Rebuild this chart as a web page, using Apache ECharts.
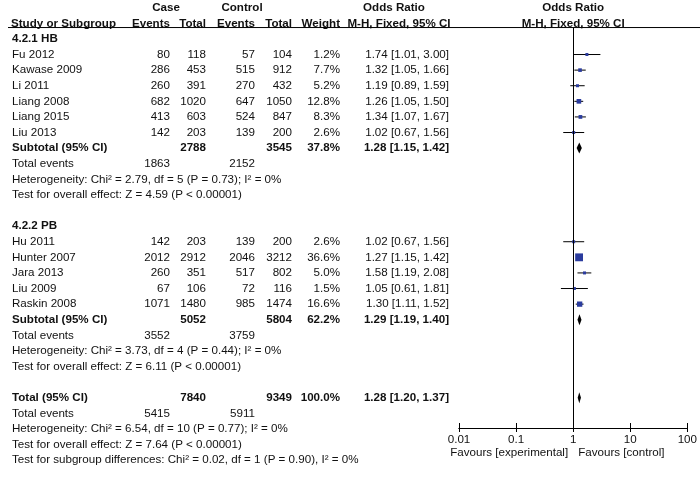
<!DOCTYPE html>
<html>
<head>
<meta charset="utf-8">
<script src="https://cdn.jsdelivr.net/npm/echarts@6/dist/echarts.min.js"></script>
<style>
  html, body { margin: 0; padding: 0; background: #fff; }
  #main { width: 700px; height: 477px; }
</style>
</head>
<body>
<div id="main"></div>
<script>
// subgroup labels
var groupLabels = ['4.2.1 HB', '4.2.2 PB']

// single studies
var studyNames = ['Fu 2012', 'Kawase 2009', 'Li 2011', 'Liang 2008', 'Liang 2015', 'Liu 2013',
  'Hu 2011', 'Hunter 2007', 'Jara 2013', 'Liu 2009', 'Raskin 2008']
var studyGroup = [0, 0, 0, 0, 0, 0, 1, 1, 1, 1, 1]
var caseEvents = [80, 286, 260, 682, 413, 142, 142, 2012, 260, 67, 1071]
var caseTotals = [118, 453, 391, 1020, 603, 203, 203, 2912, 351, 106, 1480]
var ctrlEvents = [57, 515, 270, 647, 524, 139, 139, 2046, 517, 72, 985]
var ctrlTotals = [104, 912, 432, 1050, 847, 200, 200, 3212, 802, 116, 1474]
var studyWeights = [1.2, 7.7, 5.2, 12.8, 8.3, 2.6, 2.6, 36.6, 5.0, 1.5, 16.6]
var studyOr = [1.74, 1.32, 1.19, 1.26, 1.34, 1.02, 1.02, 1.27, 1.58, 1.05, 1.30]
var studyLow = [1.01, 1.05, 0.89, 1.05, 1.07, 0.67, 0.67, 1.15, 1.19, 0.61, 1.11]
var studyHigh = [3.00, 1.66, 1.59, 1.50, 1.67, 1.56, 1.56, 1.42, 2.08, 1.81, 1.52]

// subtotals
var subCaseTotals = [2788, 5052]
var subCtrlTotals = [3545, 5804]
var subWeights = [37.8, 62.2]
var subOr = [1.28, 1.29]
var subLow = [1.15, 1.19]
var subHigh = [1.42, 1.40]
var subCaseEvents = [1863, 3552]
var subCtrlEvents = [2152, 3759]
var subHetero = ['Heterogeneity: Chi² = 2.79, df = 5 (P = 0.73); I² = 0%',
  'Heterogeneity: Chi² = 3.73, df = 4 (P = 0.44); I² = 0%']
var subEffect = ['Test for overall effect: Z = 4.59 (P < 0.00001)',
  'Test for overall effect: Z = 6.11 (P < 0.00001)']

// overall
var totalCaseTotal = 7840
var totalCtrlTotal = 9349
var totalWeight = 100.0
var totalOr = 1.28
var totalLow = 1.20
var totalHigh = 1.37
var totalCaseEvents = 5415
var totalCtrlEvents = 5911
var totalNotes = ['Heterogeneity: Chi² = 6.54, df = 10 (P = 0.77); I² = 0%',
  'Test for overall effect: Z = 7.64 (P < 0.00001)',
  'Test for subgroup differences: Chi² = 0.02, df = 1 (P = 0.90), I² = 0%']

// axis
var axisMin = 0.01
var axisMax = 100
var favourLabels = ['Favours [experimental]', 'Favours [control]']

var FONT = '"Liberation Sans", Arial, sans-serif'
var FSIZE = 11.6
var INK = '#111'
var BLUE = '#2b3c9e'
// column right edges
var colName = 12, colCaseEv = 170, colCaseTot = 206, colCtrlEv = 255, colCtrlTot = 292, colWeight = 340, colOr = 449

function fmtOr(o, l, h) {
  return o.toFixed(2) + ' [' + l.toFixed(2) + ', ' + h.toFixed(2) + ']'
}
function pct(w) {
  return w.toFixed(1) + '%'
}

// build table rows + forest marks
var rows = []
var marks = []
var r = 0
for (var g = 0; g < groupLabels.length; g++) {
  rows.push({ r: r, bold: true, cells: [[groupLabels[g], colName, 'left']] })
  r++
  for (var i = 0; i < studyNames.length; i++) {
    if (studyGroup[i] !== g) continue
    rows.push({ r: r, bold: false, cells: [
      [studyNames[i], colName, 'left'],
      [String(caseEvents[i]), colCaseEv, 'right'],
      [String(caseTotals[i]), colCaseTot, 'right'],
      [String(ctrlEvents[i]), colCtrlEv, 'right'],
      [String(ctrlTotals[i]), colCtrlTot, 'right'],
      [pct(studyWeights[i]), colWeight, 'right'],
      [fmtOr(studyOr[i], studyLow[i], studyHigh[i]), colOr, 'right']
    ] })
    marks.push([r, studyOr[i], studyLow[i], studyHigh[i], studyWeights[i], 0])
    r++
  }
  rows.push({ r: r, bold: true, cells: [
    ['Subtotal (95% CI)', colName, 'left'],
    [String(subCaseTotals[g]), colCaseTot, 'right'],
    [String(subCtrlTotals[g]), colCtrlTot, 'right'],
    [pct(subWeights[g]), colWeight, 'right'],
    [fmtOr(subOr[g], subLow[g], subHigh[g]), colOr, 'right']
  ] })
  marks.push([r, subOr[g], subLow[g], subHigh[g], 0, 1])
  r++
  rows.push({ r: r, bold: false, cells: [
    ['Total events', colName, 'left'],
    [String(subCaseEvents[g]), colCaseEv, 'right'],
    [String(subCtrlEvents[g]), colCtrlEv, 'right']
  ] })
  r++
  rows.push({ r: r, bold: false, cells: [[subHetero[g], colName, 'left']] })
  r++
  rows.push({ r: r, bold: false, cells: [[subEffect[g], colName, 'left']] })
  r += 2
}
rows.push({ r: r, bold: true, cells: [
  ['Total (95% CI)', colName, 'left'],
  [String(totalCaseTotal), colCaseTot, 'right'],
  [String(totalCtrlTotal), colCtrlTot, 'right'],
  [pct(totalWeight), colWeight, 'right'],
  [fmtOr(totalOr, totalLow, totalHigh), colOr, 'right']
] })
marks.push([r, totalOr, totalLow, totalHigh, 0, 1])
r++
rows.push({ r: r, bold: false, cells: [
  ['Total events', colName, 'left'],
  [String(totalCaseEvents), colCaseEv, 'right'],
  [String(totalCtrlEvents), colCtrlEv, 'right']
] })
r++
for (var k = 0; k < totalNotes.length; k++) {
  rows.push({ r: r, bold: false, cells: [[totalNotes[k], colName, 'left']] })
  r++
}

function txt(s, x, y, align, bold) {
  return {
    type: 'text', x: x, y: y, silent: true,
    style: { text: s, fill: INK, align: align, verticalAlign: 'middle',
      font: (bold ? 'bold ' : '') + FSIZE + 'px ' + FONT }
  }
}

function renderTable(params, api) {
  var row = rows[api.value(2)]
  var y = api.coord([1, api.value(1)])[1]
  var kids = []
  for (var j = 0; j < row.cells.length; j++) {
    var c = row.cells[j]
    kids.push(txt(c[0], c[1], y, c[2], row.bold))
  }
  return { type: 'group', children: kids }
}

function renderHeader(params, api) {
  var one = api.coord([1, 0])[0]
  var y1 = api.coord([1, -1.98])[1]
  var y2 = api.coord([1, -1.0])[1]
  var yl = api.coord([1, -0.73])[1]
  var yb = api.coord([1, 24.94])[1]
  return { type: 'group', children: [
    txt('Case', 166, y1, 'center', true),
    txt('Control', 242, y1, 'center', true),
    txt('Odds Ratio', 394, y1, 'center', true),
    txt('Odds Ratio', one, y1, 'center', true),
    txt('Study or Subgroup', 11, y2, 'left', true),
    txt('Events', colCaseEv, y2, 'right', true),
    txt('Total', colCaseTot, y2, 'right', true),
    txt('Events', colCtrlEv, y2, 'right', true),
    txt('Total', colCtrlTot, y2, 'right', true),
    txt('Weight', colWeight, y2, 'right', true),
    txt('M-H, Fixed, 95% CI', 399, y2, 'center', true),
    txt('M-H, Fixed, 95% CI', one, y2, 'center', true),
    { type: 'line', silent: true, shape: { x1: 8, y1: yl, x2: 700, y2: yl },
      style: { stroke: '#000', lineWidth: 1 } },
    txt(favourLabels[0], one - 5, yb + 25, 'right', false),
    txt(favourLabels[1], one + 5, yb + 25, 'left', false)
  ] }
}

function renderForest(params, api) {
  var row = api.value(0)
  var c = api.coord([api.value(1), row])
  var lo = api.coord([api.value(2), row])
  var hi = api.coord([api.value(3), row])
  if (api.value(5) === 1) {
    return {
      type: 'polygon',
      shape: { points: [[lo[0], c[1]], [c[0], c[1] - 5.5], [hi[0], c[1]], [c[0], c[1] + 5.5]] },
      style: { fill: '#000' }
    }
  }
  var s = Math.max(3, 1.3 * Math.sqrt(api.value(4)))
  return { type: 'group', children: [
    { type: 'line', shape: { x1: lo[0], y1: c[1], x2: hi[0], y2: c[1] },
      style: { stroke: '#000', lineWidth: 1 } },
    { type: 'rect', shape: { x: c[0] - s / 2, y: c[1] - s / 2, width: s, height: s },
      style: { fill: BLUE } }
  ] }
}

var tableData = rows.map(function (row, idx) { return [1, row.r, idx] })

var chart = echarts.init(document.getElementById('main'), null, { renderer: 'canvas' })
var axisBase = {
  type: 'log', logBase: 10, min: axisMin, max: axisMax, gridIndex: 0, position: 'bottom',
  splitLine: { show: false },
  axisLine: { onZero: false, lineStyle: { color: '#000', width: 1 } }
}
chart.setOption({
  animation: false,
  backgroundColor: '#fff',
  grid: { left: 459, right: 12, top: 28, bottom: 49, containLabel: false },
  xAxis: [
    Object.assign({}, axisBase, {
      axisTick: { show: true, inside: false, length: 4, lineStyle: { color: '#000' } },
      axisLabel: { color: INK, fontFamily: FONT, fontSize: FSIZE, margin: 6,
        formatter: function (v) { return String(+v.toPrecision(2)) } }
    }),
    Object.assign({}, axisBase, {
      axisTick: { show: true, inside: true, length: 5, lineStyle: { color: '#000' } },
      axisLabel: { show: false }
    })
  ],
  yAxis: {
    type: 'value', inverse: true, min: -0.7, max: 24.94,
    axisLine: { show: false }, axisTick: { show: false },
    axisLabel: { show: false }, splitLine: { show: false }
  },
  series: [
    {
      type: 'custom', name: 'table', renderItem: renderTable, data: tableData,
      encode: { x: 0, y: 1 }, clip: false, silent: true
    },
    {
      type: 'custom', name: 'header', renderItem: renderHeader, data: [[1, 0]],
      encode: { x: 0, y: 1 }, clip: false, silent: true
    },
    {
      type: 'custom', name: 'forest', renderItem: renderForest, data: marks,
      encode: { x: [1, 2, 3], y: 0 }, clip: false, silent: true,
      markLine: {
        symbol: 'none', silent: true, label: { show: false },
        lineStyle: { color: '#000', type: 'solid', width: 1 },
        data: [{ xAxis: 1 }]
      }
    }
  ]
})
</script>
</body>
</html>
